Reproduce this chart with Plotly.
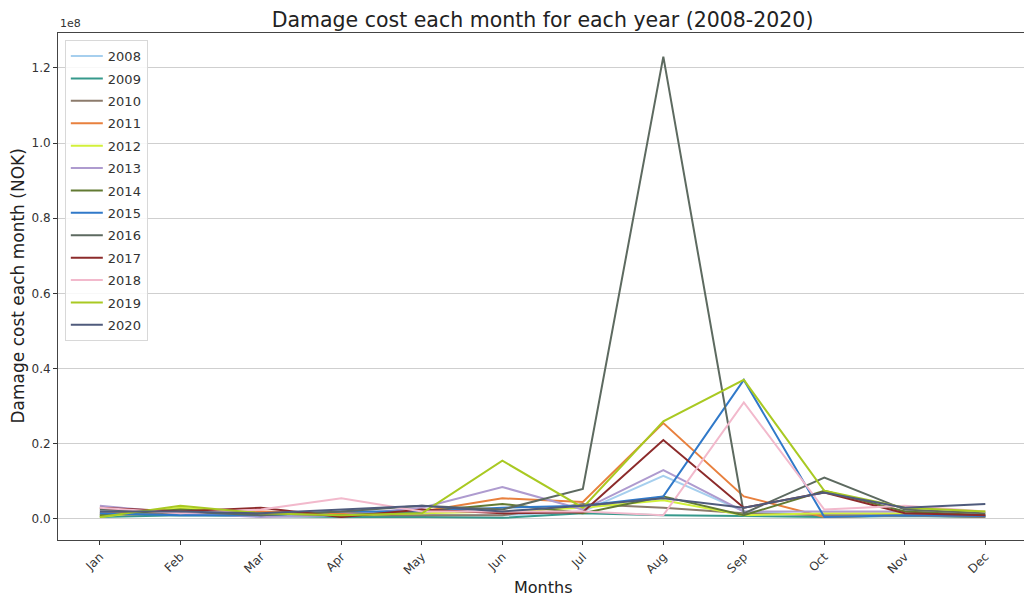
import plotly.graph_objects as go

months = ["Jan", "Feb", "Mar", "Apr", "May", "Jun", "Jul", "Aug", "Sep", "Oct", "Nov", "Dec"]
years = ["2008", "2009", "2010", "2011", "2012", "2013", "2014", "2015", "2016", "2017", "2018", "2019", "2020"]

# damage cost per month, in millions NOK
cost_2008 = [1.0, 1.5, 1.0, 1.5, 1.0, 1.0, 2.0, 11.5, 2.0, 1.0, 1.0, 0.8]
cost_2009 = [0.5, 1.0, 0.8, 0.5, 0.5, 0.3, 1.5, 1.0, 0.8, 0.5, 0.8, 0.5]
cost_2010 = [1.0, 1.5, 1.5, 1.0, 1.0, 1.0, 4.0, 3.0, 1.5, 1.0, 1.0, 0.5]
cost_2011 = [1.5, 2.0, 2.0, 1.5, 2.0, 5.5, 4.5, 25.5, 6.0, 0.5, 1.0, 1.0]
cost_2012 = [0.5, 3.0, 1.5, 1.0, 1.5, 2.0, 3.0, 5.0, 1.0, 1.5, 1.5, 2.0]
cost_2013 = [3.5, 1.5, 0.5, 1.0, 3.0, 8.5, 2.5, 13.0, 2.0, 2.0, 2.0, 1.5]
cost_2014 = [1.0, 2.5, 1.5, 1.0, 2.0, 4.0, 1.5, 6.0, 1.0, 7.5, 2.0, 1.0]
cost_2015 = [1.5, 1.0, 1.0, 2.0, 2.0, 3.0, 3.5, 6.0, 37.0, 0.5, 1.0, 0.8]
cost_2016 = [2.5, 2.0, 1.0, 2.0, 3.5, 2.5, 8.0, 123.0, 1.5, 11.0, 2.5, 1.5]
cost_2017 = [3.0, 2.0, 3.0, 0.5, 2.5, 1.5, 1.8, 21.0, 3.0, 7.0, 1.5, 1.0]
cost_2018 = [3.0, 1.5, 2.5, 5.5, 2.0, 2.0, 2.0, 1.0, 31.0, 2.5, 3.5, 2.0]
cost_2019 = [0.5, 3.5, 1.5, 1.0, 1.5, 15.5, 3.0, 26.0, 37.0, 7.5, 3.0, 2.0]
cost_2020 = [2.0, 2.0, 1.5, 2.5, 3.5, 2.0, 3.5, 5.5, 3.0, 7.0, 3.0, 4.0]

series = [cost_2008, cost_2009, cost_2010, cost_2011, cost_2012, cost_2013, cost_2014,
          cost_2015, cost_2016, cost_2017, cost_2018, cost_2019, cost_2020]
colors = ["#a6cfee", "#36998c", "#8c7b6c", "#e8803e", "#d2f03a", "#ae9bcf", "#627a33",
          "#3079c9", "#5d6a60", "#8c2b2b", "#f2b9cc", "#a9c922", "#4f5b7c"]

ytick_vals = [0.0, 0.2, 0.4, 0.6, 0.8, 1.0, 1.2]

fig = go.Figure()
for yr, vals, c in zip(years, series, colors):
    fig.add_trace(go.Scatter(
        x=list(range(len(months))), y=[v * 1e6 for v in vals],
        mode="lines", name=yr, legendgroup=yr, line=dict(color=c, width=2)))

# page body has an 8px margin, so the figure is sized 1024x591
fig.update_layout(
    width=1024, height=591,
    margin=dict(l=50, r=0, t=25, b=59, autoexpand=False),
    paper_bgcolor="white", plot_bgcolor="white",
    font=dict(family="DejaVu Sans", color="#222222"),
    title=dict(text="Damage cost each month for each year (2008-2020)",
               x=0.522, xanchor="center", y=0.9797, yanchor="middle",
               font=dict(size=20.5, color="#222222")),
    showlegend=True,
    legend=dict(x=0.007, y=0.986, xanchor="left", yanchor="top",
                bgcolor="rgba(255,255,255,0.85)", bordercolor="#d8d8d8", borderwidth=1,
                font=dict(size=13, color="#333333"), itemwidth=32,
                traceorder="grouped", tracegroupgap=2.5),
)
fig.update_xaxes(
    range=[-0.52, 11.58], tickvals=list(range(12)), ticktext=months, tickangle=-45,
    tickfont=dict(size=12, color="#333333"), ticks="outside", ticklen=4, tickcolor="#333333",
    showgrid=False, zeroline=False, showline=True, linecolor="#444444", linewidth=1, mirror=True,
    automargin=False)
fig.update_yaxes(
    range=[-0.056e8, 1.293e8], tickvals=[v * 1e8 for v in ytick_vals],
    ticktext=[f"{v:.1f}" for v in ytick_vals],
    tickfont=dict(size=12, color="#333333"), ticks="outside", ticklen=4, tickcolor="#333333",
    showgrid=True, gridcolor="#cfcfcf", gridwidth=1, zeroline=False,
    showline=True, linecolor="#444444", linewidth=1, mirror=True, automargin=False)
fig.add_annotation(text="1e8", xref="paper", yref="paper", x=0.0, y=1.0,
                   xanchor="left", yanchor="bottom", showarrow=False,
                   font=dict(size=11, color="#333333"), yshift=1)
fig.add_annotation(text="Months", xref="paper", yref="paper", x=0.498, y=0,
                   xanchor="center", yanchor="middle", yshift=-47, showarrow=False,
                   font=dict(size=16, color="#222222"))
fig.add_annotation(text="Damage cost each month (NOK)", xref="paper", yref="paper",
                   x=0, y=0.5, xanchor="center", yanchor="middle", xshift=-41,
                   textangle=-90, showarrow=False,
                   font=dict(size=17, color="#222222"))

fig.write_html("out.html")
